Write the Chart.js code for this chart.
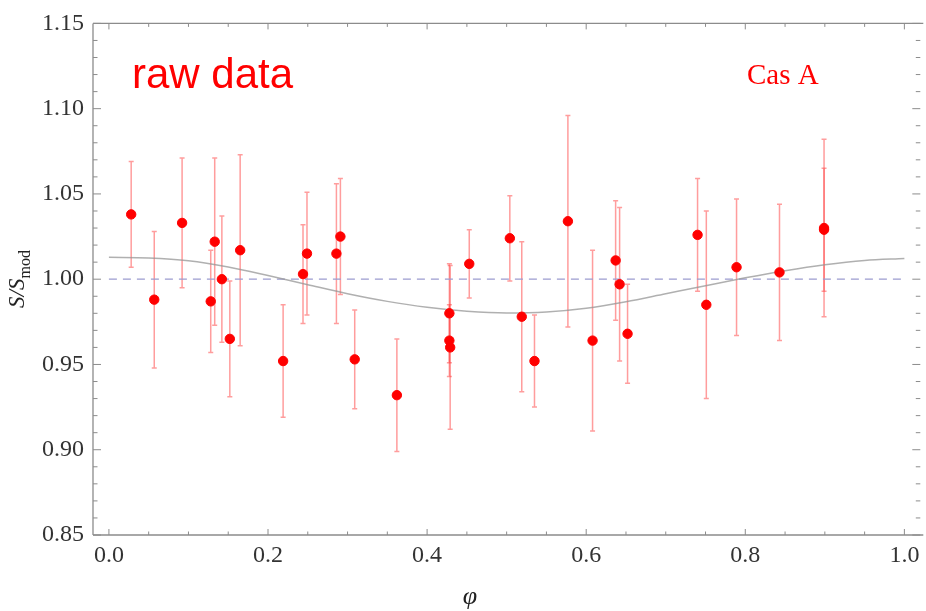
<!DOCTYPE html>
<html>
<head>
<meta charset="utf-8">
<script src="https://cdn.jsdelivr.net/npm/chart.js@4"></script>
<style>
  body { margin: 0; background: #fff; }
</style>
</head>
<body>
<canvas id="grafico" width="926" height="611"></canvas>
<script>
// puntos medidos (fase, S/Smod, error)
const phase = [0.028, 0.057, 0.092, 0.128, 0.133, 0.142, 0.152, 0.165, 0.219, 0.244, 0.249,
    0.286, 0.291, 0.309, 0.362, 0.428, 0.428, 0.429, 0.453, 0.504, 0.519, 0.535, 0.577,
    0.608, 0.637, 0.642, 0.652, 0.740, 0.751, 0.789, 0.843, 0.899, 0.899]
const ratio = [1.038, 0.988, 1.033, 0.987, 1.022, 1.000, 0.965, 1.017, 0.952, 1.003, 1.015,
    1.015, 1.025, 0.953, 0.932, 0.980, 0.964, 0.960, 1.009, 1.024, 0.978, 0.952, 1.034,
    0.964, 1.011, 0.997, 0.968, 1.026, 0.985, 1.007, 1.004, 1.030, 1.029]
const err = [0.031, 0.040, 0.038, 0.030, 0.049, 0.037, 0.034, 0.056, 0.033, 0.029, 0.036,
    0.041, 0.034, 0.029, 0.033, 0.029, 0.021, 0.048, 0.020, 0.025, 0.044, 0.027, 0.062,
    0.053, 0.035, 0.045, 0.029, 0.033, 0.055, 0.040, 0.040, 0.052, 0.036]

// curva del modelo
const modelPhase = [0, 0.05, 0.1, 0.15, 0.2, 0.25, 0.3, 0.35, 0.4, 0.45, 0.5, 0.55, 0.6, 0.65,
    0.7, 0.75, 0.8, 0.85, 0.9, 0.95, 1.0]
const modelRatio = [1.0128, 1.0124, 1.0108, 1.0072, 1.0022, 0.9968, 0.9915, 0.9870, 0.9835,
    0.9812, 0.9802, 0.9808, 0.9830, 0.9868, 0.9915, 0.9962, 1.0008, 1.0050, 1.0085, 1.0110, 1.0122]

const refPhase = [0, 1]
const refRatio = [1, 1]

const xTicks = [0, 0.2, 0.4, 0.6, 0.8, 1.0]
const yTicks = [0.85, 0.90, 0.95, 1.00, 1.05, 1.10, 1.15]

const toXY = (xs, ys) => xs.map((x, i) => ({ x: x, y: ys[i] }))

const frameColor = '#8c8c8c'

// barras de error
const errorBars = {
    id: 'errorBars',
    beforeDatasetsDraw(chart) {
        const ctx = chart.ctx
        const xs = chart.scales.x
        const ys = chart.scales.y
        ctx.save()
        ctx.strokeStyle = 'rgba(255, 60, 60, 0.5)'
        ctx.lineWidth = 1.5
        phase.forEach((p, i) => {
            const px = xs.getPixelForValue(p)
            const top = ys.getPixelForValue(ratio[i] + err[i])
            const bot = ys.getPixelForValue(ratio[i] - err[i])
            ctx.beginPath()
            ctx.moveTo(px, top); ctx.lineTo(px, bot)
            ctx.moveTo(px - 2.5, top); ctx.lineTo(px + 2.5, top)
            ctx.moveTo(px - 2.5, bot); ctx.lineTo(px + 2.5, bot)
            ctx.stroke()
        })
        ctx.restore()
    }
}

// marco estilo Mathematica con ticks hacia adentro
const frame = {
    id: 'frame',
    afterDraw(chart) {
        const ctx = chart.ctx
        const a = chart.chartArea
        const xs = chart.scales.x
        const ys = chart.scales.y
        ctx.save()
        ctx.strokeStyle = frameColor
        ctx.lineWidth = 1.3
        ctx.beginPath()
        ctx.moveTo(a.left, a.top); ctx.lineTo(a.right + 3, a.top)
        ctx.moveTo(a.left, a.top); ctx.lineTo(a.left, a.bottom)
        ctx.moveTo(a.left, a.bottom); ctx.lineTo(a.right + 3, a.bottom)
        ctx.stroke()

        ctx.lineWidth = 1
        ctx.beginPath()
        for (let k = 0; k <= 20; k++) {
            const v = k * 0.05
            const px = xs.getPixelForValue(v)
            const len = k % 4 === 0 ? 6 : 3.5
            ctx.moveTo(px, a.bottom); ctx.lineTo(px, a.bottom - len)
            ctx.moveTo(px, a.top); ctx.lineTo(px, a.top + len)
        }
        for (let k = 0; k <= 30; k++) {
            const v = 0.85 + k * 0.01
            const py = ys.getPixelForValue(v)
            const len = k % 5 === 0 ? 8 : 4.5
            ctx.moveTo(a.left, py); ctx.lineTo(a.left + len, py)
            ctx.moveTo(a.right, py); ctx.lineTo(a.right - len, py)
        }
        ctx.stroke()

        // etiquetas de ejes
        ctx.fillStyle = '#222'
        ctx.font = 'italic 26px "Liberation Serif"'
        ctx.textAlign = 'center'
        ctx.textBaseline = 'alphabetic'
        ctx.fillText('φ', 470, 604)

        ctx.translate(24, 279)
        ctx.rotate(-Math.PI / 2)
        ctx.font = 'italic 23px "Liberation Serif"'
        const w1 = ctx.measureText('S/S').width
        ctx.font = '16px "Liberation Serif"'
        const w2 = ctx.measureText('mod').width
        const start = -(w1 + w2) / 2
        ctx.textAlign = 'left'
        ctx.font = 'italic 23px "Liberation Serif"'
        ctx.fillText('S/S', start, 0)
        ctx.font = '16px "Liberation Serif"'
        ctx.fillText('mod', start + w1, 6)
        ctx.restore()

        // textos dentro del grafico
        ctx.save()
        ctx.fillStyle = '#ff0000'
        ctx.font = '42px "Liberation Sans"'
        ctx.textBaseline = 'alphabetic'
        ctx.fillText('raw data', 132, 88)
        ctx.font = '29px "Liberation Serif"'
        ctx.fillText('Cas A', 747, 84)
        ctx.restore()
    }
}

const config = {
    type: 'scatter',
    data: {
        datasets: [{
            label: 'raw data',
            data: toXY(phase, ratio),
            backgroundColor: '#ff0000',
            borderColor: '#ff0000',
            pointRadius: 4.7,
            pointHoverRadius: 4.7,
            order: 0
        }, {
            label: 'modelo',
            data: toXY(modelPhase, modelRatio),
            showLine: true,
            borderColor: 'rgba(150, 150, 150, 0.75)',
            borderWidth: 1.5,
            pointRadius: 0,
            cubicInterpolationMode: 'monotone',
            order: 2
        }, {
            label: 'referencia',
            data: toXY(refPhase, refRatio),
            showLine: true,
            borderColor: '#9c9cd0',
            borderWidth: 1.2,
            borderDash: [8, 6],
            pointRadius: 0,
            order: 3
        }]
    },
    options: {
        responsive: false,
        animation: false,
        layout: { padding: { top: 22, right: 3, left: 0, bottom: 0 } },
        plugins: {
            legend: { display: false },
            tooltip: { enabled: false }
        },
        scales: {
            x: {
                type: 'linear',
                min: -0.02,
                max: 1.02,
                afterFit: s => { s.height = 76 },
                afterBuildTicks: s => { s.ticks = xTicks.map(v => ({ value: v })) },
                grid: { display: false, drawTicks: false },
                border: { display: false },
                ticks: {
                    padding: 6,
                    color: '#333',
                    font: { family: '"Liberation Serif"', size: 24 },
                    callback: v => v.toFixed(1),
                    maxRotation: 0
                }
            },
            y: {
                type: 'linear',
                min: 0.85,
                max: 1.15,
                afterFit: s => { s.width = 93 },
                afterBuildTicks: s => { s.ticks = yTicks.map(v => ({ value: v })) },
                grid: { display: false, drawTicks: false },
                border: { display: false },
                ticks: {
                    padding: 9,
                    color: '#333',
                    font: { family: '"Liberation Serif"', size: 24 },
                    callback: v => v.toFixed(2)
                }
            }
        }
    },
    plugins: [errorBars, frame]
}

const grafico = new Chart(document.querySelector('#grafico'), config)
</script>
</body>
</html>
